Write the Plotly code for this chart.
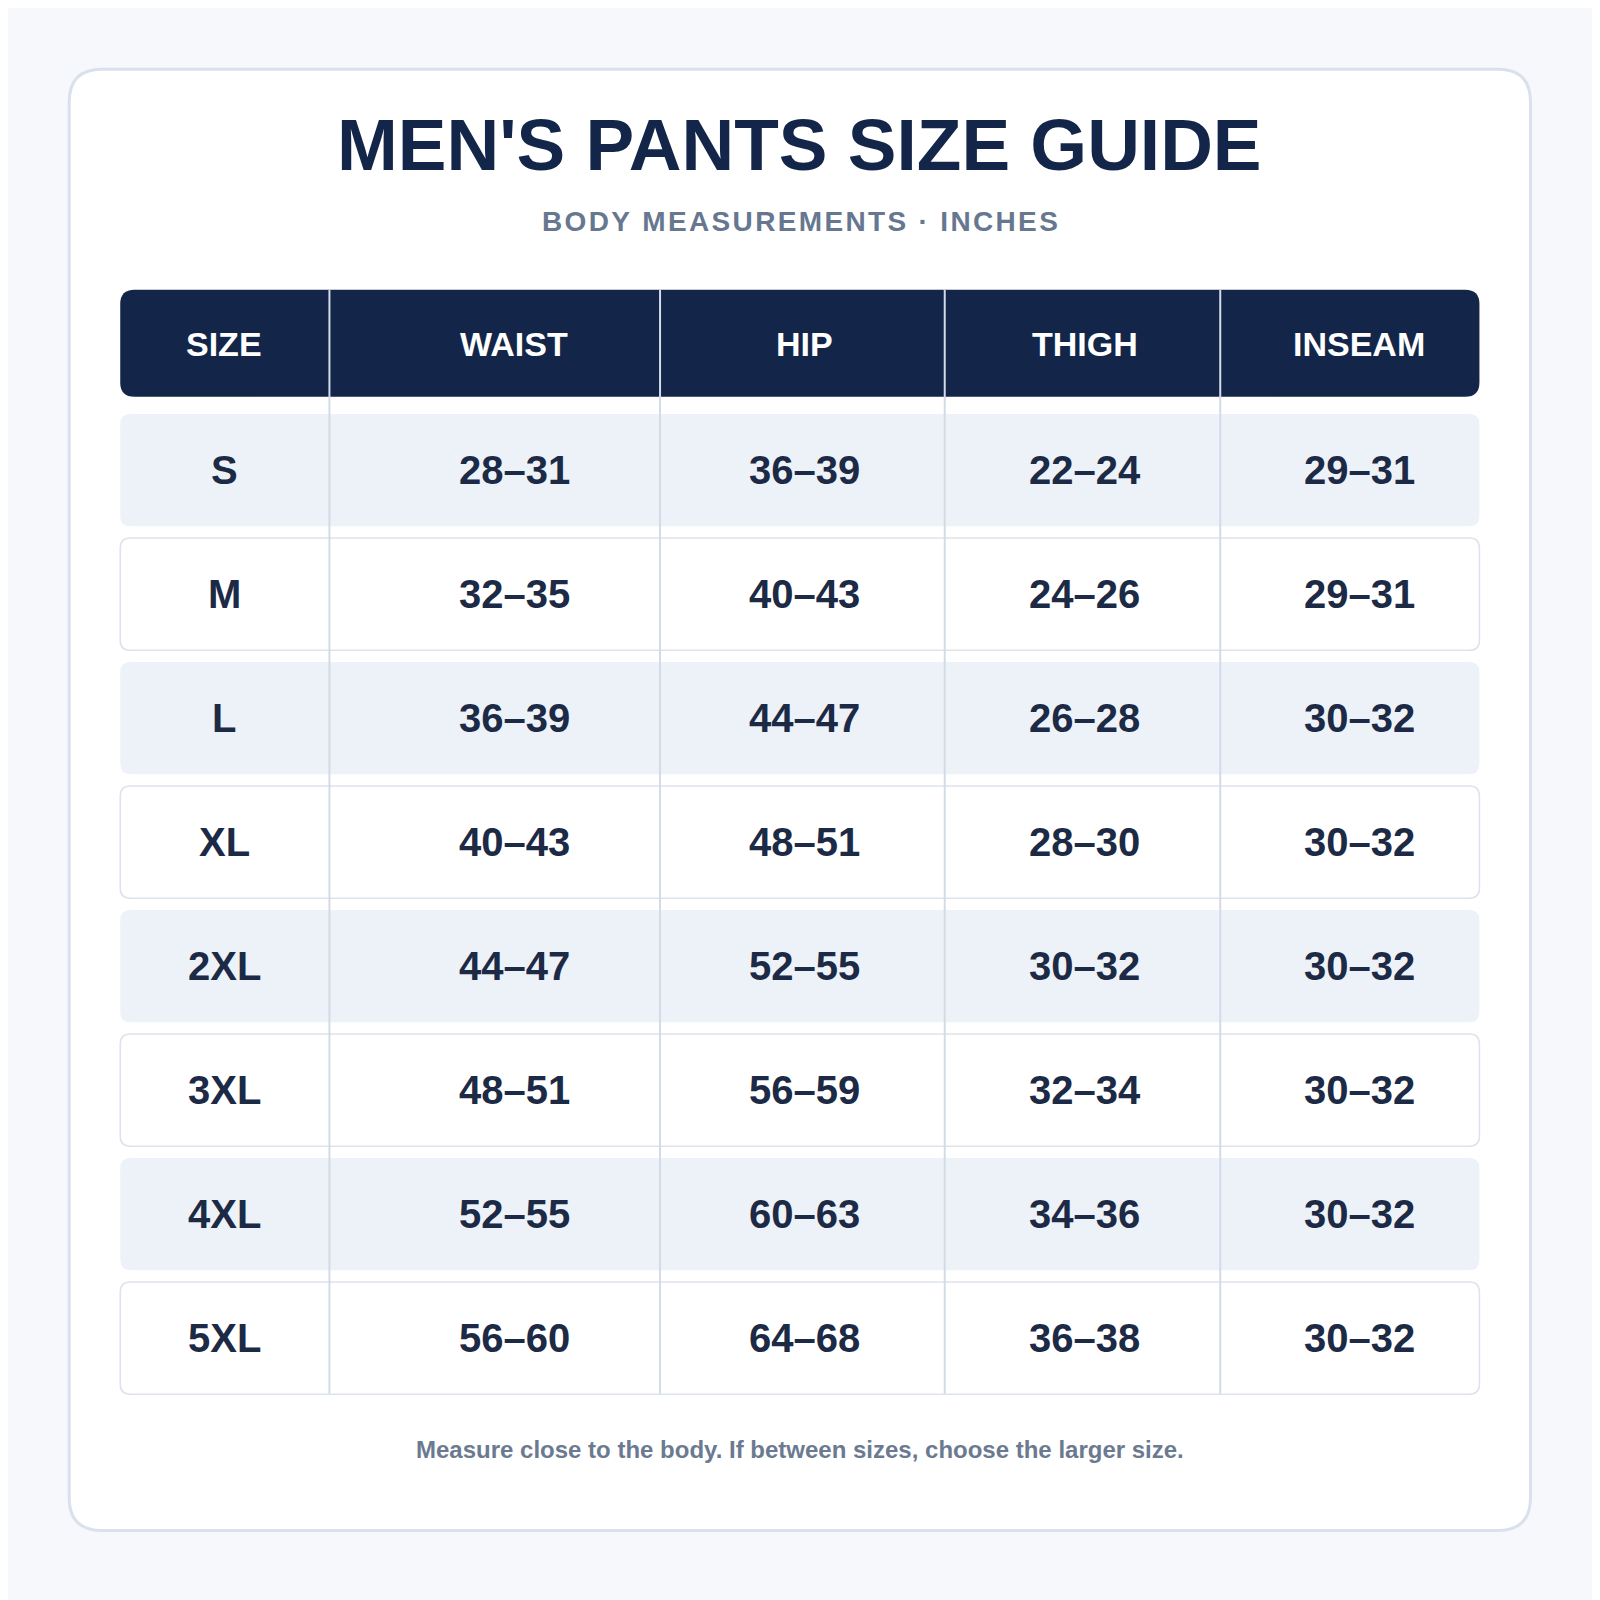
import plotly.graph_objects as go

title = "MEN'S PANTS SIZE GUIDE"
subtitle = "BODY MEASUREMENTS · INCHES"
footer = "Measure close to the body. If between sizes, choose the larger size."
columns = ["SIZE", "WAIST", "HIP", "THIGH", "INSEAM"]
sizes = ["S", "M", "L", "XL", "2XL", "3XL", "4XL", "5XL"]
waist = ["28–31", "32–35", "36–39", "40–43", "44–47", "48–51", "52–55", "56–60"]
hip = ["36–39", "40–43", "44–47", "48–51", "52–55", "56–59", "60–63", "64–68"]
thigh = ["22–24", "24–26", "26–28", "28–30", "30–32", "32–34", "34–36", "36–38"]
inseam = ["29–31", "29–31", "30–32", "30–32", "30–32", "30–32", "30–32", "30–32"]

S = 1568.0
OFF = 8
col_edges = [118, 323, 647, 926, 1196, 1450]
col_centers = [220, 504, 789, 1063, 1332]
row_top0, row_h, row_pitch = 406, 110, 121.5
NAVY = "#13264a"
FONT = "Liberation Sans, Arial, sans-serif"

def rr(x0, y0, x1, y1, r):
    return (f"M{x0+r},{y0} L{x1-r},{y0} Q{x1},{y0} {x1},{y0+r} L{x1},{y1-r} Q{x1},{y1} {x1-r},{y1} "
            f"L{x0+r},{y1} Q{x0},{y1} {x0},{y1-r} L{x0},{y0+r} Q{x0},{y0} {x0+r},{y0} Z")

shapes = []
ann = []
shapes.append(dict(type="path", path=rr(68, 68, 1500, 1500, 32), fillcolor="white",
                   line=dict(color="#d9e1ec", width=3), layer="below"))
shapes.append(dict(type="path", path=rr(118, 284, 1450, 389, 14), fillcolor=NAVY,
                   line=dict(width=0), layer="below"))
for i, s in enumerate(sizes):
    y0 = row_top0 + i * row_pitch
    if i % 2 == 0:
        shapes.append(dict(type="path", path=rr(118, y0, 1450, y0 + row_h, 10), fillcolor="#edf2f9",
                           line=dict(width=0), layer="below"))
    else:
        shapes.append(dict(type="path", path=rr(118, y0, 1450, y0 + row_h, 10), fillcolor="white",
                           line=dict(color="#dde3eb", width=1.5), layer="below"))
    yc = y0 + row_h / 2
    for j, v in enumerate([s, waist[i], hip[i], thigh[i], inseam[i]]):
        ann.append(dict(x=col_centers[j], y=yc, text=f"<b>{v}</b>", showarrow=False,
                        font=dict(family=FONT, size=40, color="#1c2a45"), xanchor="center", yanchor="middle"))
for x in col_edges[1:-1]:
    shapes.append(dict(type="line", x0=x, x1=x, y0=284, y1=1366, line=dict(color="#d3dbe6", width=2), layer="above"))
for j, c in enumerate(columns):
    ann.append(dict(x=col_centers[j], y=337, text=f"<b>{c}</b>", showarrow=False,
                    font=dict(family=FONT, size=34, color="white"), xanchor="center", yanchor="middle"))

ann.append(dict(x=784, y=142, text=f"<b>{title}</b>", showarrow=False,
                font=dict(family=FONT, size=73, color=NAVY), xanchor="center", yanchor="middle"))
ann.append(dict(x=784, y=217, text="<b>" + "\u200a".join(subtitle) + "</b>", showarrow=False,
                font=dict(family=FONT, size=28, color="#66778f"), xanchor="center", yanchor="middle"))
ann.append(dict(x=784, y=1421, text=f"<b>{footer}</b>", showarrow=False,
                font=dict(family=FONT, size=24, color="#6b7a90"), xanchor="center", yanchor="middle"))
for a in ann:
    a["xref"] = "x"; a["yref"] = "y"
for s_ in shapes:
    s_["xref"] = "x"; s_["yref"] = "y"

fig = go.Figure()
fig.update_layout(width=1600, height=1600, margin=dict(l=0, r=0, t=0, b=0),
                  paper_bgcolor="#f6f8fc", plot_bgcolor="#f6f8fc",
                  xaxis=dict(range=[OFF, S + OFF], visible=False, fixedrange=True),
                  yaxis=dict(range=[S + OFF, OFF], visible=False, fixedrange=True),
                  shapes=shapes, annotations=ann, showlegend=False)
fig.write_html("out.html")
